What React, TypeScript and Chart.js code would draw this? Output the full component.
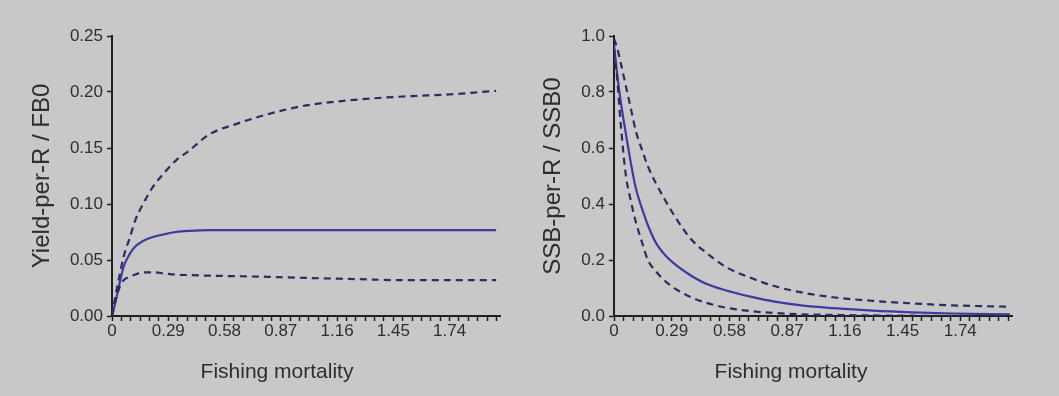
import React, { useEffect, useRef } from 'react';
import { Chart, registerables } from 'chart.js';

Chart.register(...registerables);

const FONT = '"Liberation Sans", Arial, sans-serif';

// x axis: minor tick every 0.29/6, labels every 6th tick
const X_TICK_STEP = 0.29 / 6;
const X_TICK_COUNT = 42;
const X_TICK_LABELS = ['0', '0.29', '0.58', '0.87', '1.16', '1.45', '1.74'];
const LEFT_Y_TICKS = ['0.00', '0.05', '0.10', '0.15', '0.20', '0.25'];
const RIGHT_Y_TICKS = ['0.0', '0.2', '0.4', '0.6', '0.8', '1.0'];

// Left panel: Yield-per-R / FB0
const F_LEFT = [0, 0.02, 0.04, 0.06, 0.09, 0.12, 0.16, 0.21, 0.27, 0.33, 0.4, 0.5, 0.65, 0.8, 1.0, 1.25, 1.5, 1.75, 1.98];
const YIELD_MID = [0, 0.014, 0.03, 0.044, 0.055, 0.062, 0.067, 0.0705, 0.073, 0.075, 0.076, 0.0766, 0.0766, 0.0766, 0.0766, 0.0766, 0.0766, 0.0766, 0.0766];
const YIELD_UPPER = [0, 0.02, 0.037, 0.053, 0.069, 0.0855, 0.1, 0.115, 0.128, 0.139, 0.148, 0.162, 0.172, 0.18, 0.188, 0.193, 0.196, 0.198, 0.201];
const YIELD_LOWER = [0, 0.015, 0.026, 0.032, 0.035, 0.037, 0.039, 0.039, 0.038, 0.037, 0.0365, 0.036, 0.0355, 0.035, 0.034, 0.033, 0.032, 0.032, 0.032];

// Right panel: SSB-per-R / SSB0
const F_RIGHT = [0, 0.015, 0.035, 0.06, 0.085, 0.11, 0.14, 0.17, 0.21, 0.26, 0.32, 0.39, 0.46, 0.56, 0.68, 0.8, 0.95, 1.1, 1.3, 1.5, 1.7, 1.99];
const SSB_MID = [0.97, 0.87, 0.76, 0.65, 0.545, 0.455, 0.385, 0.325, 0.262, 0.215, 0.177, 0.143, 0.116, 0.092, 0.07, 0.052, 0.037, 0.028, 0.019, 0.013, 0.009, 0.006];
const SSB_UPPER = [0.99, 0.96, 0.9, 0.82, 0.74, 0.66, 0.595, 0.535, 0.475, 0.41, 0.34, 0.272, 0.228, 0.176, 0.138, 0.108, 0.083, 0.067, 0.054, 0.045, 0.038, 0.033];
const SSB_LOWER = [0.95, 0.855, 0.676, 0.5, 0.41, 0.335, 0.265, 0.2, 0.16, 0.123, 0.092, 0.066, 0.048, 0.03, 0.018, 0.011, 0.006, 0.004, 0.002, 0.001, 0.0005, 0];

const SOLID_COLOR = '#3c3ca0';
const DASH_COLOR = '#2c2c62';
const AXIS_COLOR = '#1e1e1e';
const TEXT_COLOR = '#2e2e2e';

const xTitlePlugin = {
  id: 'xTitleAt',
  afterDraw(chart: any, _args: any, opts: any) {
    const { ctx } = chart;
    ctx.save();
    ctx.font = `${opts.size}px ${FONT}`;
    ctx.fillStyle = opts.color;
    ctx.textAlign = 'center';
    ctx.textBaseline = 'middle';
    ctx.fillText(opts.text, opts.x, opts.y);
    ctx.restore();
  },
};

type PanelSpec = {
  xs: number[];
  mid: number[];
  upper: number[];
  lower: number[];
  yMax: number;
  yStep: number;
  yLabels: string[];
  yTitle: string;
  yTitlePad: number;
  yAxisWidth: number;
  padRight: number;
  xTitleX: number;
};

function toPoints(xs: number[], ys: number[]) {
  return xs.map((x, i) => ({ x, y: ys[i] }));
}

function makeConfig(p: PanelSpec): any {
  const dashed = (ys: number[]) => ({
    data: toPoints(p.xs, ys),
    borderColor: DASH_COLOR,
    borderWidth: 2.2,
    borderDash: [7, 5],
    pointRadius: 0,
    fill: false,
    cubicInterpolationMode: 'monotone',
  });
  return {
    type: 'line',
    data: {
      datasets: [
        dashed(p.upper),
        dashed(p.lower),
        {
          data: toPoints(p.xs, p.mid),
          borderColor: SOLID_COLOR,
          borderWidth: 2.2,
          pointRadius: 0,
          fill: false,
          cubicInterpolationMode: 'monotone',
        },
      ],
    },
    options: {
      animation: false,
      responsive: false,
      maintainAspectRatio: false,
      events: [],
      layout: { padding: { top: 36, right: p.padRight, left: 0, bottom: 0 } },
      plugins: {
        legend: { display: false },
        tooltip: { enabled: false },
        xTitleAt: { text: 'Fishing mortality', x: p.xTitleX, y: 372, size: 21, color: TEXT_COLOR },
      },
      scales: {
        x: {
          type: 'linear',
          min: 0,
          max: 2.0,
          afterBuildTicks: (scale: any) => {
            const t = [];
            for (let i = 0; i < X_TICK_COUNT; i++) t.push({ value: i * X_TICK_STEP });
            scale.ticks = t;
          },
          afterFit: (scale: any) => {
            scale.height = 80;
          },
          grid: {
            display: true,
            drawOnChartArea: false,
            drawTicks: true,
            tickLength: 5,
            tickColor: AXIS_COLOR,
            tickWidth: 1.5,
          },
          border: { display: true, color: AXIS_COLOR, width: 2 },
          ticks: {
            autoSkip: false,
            maxRotation: 0,
            minRotation: 0,
            padding: 0,
            color: TEXT_COLOR,
            font: { family: FONT, size: 17 },
            callback: (_v: any, i: number) => (i % 6 === 0 ? X_TICK_LABELS[i / 6] ?? '' : ''),
          },
        },
        y: {
          type: 'linear',
          min: 0,
          max: p.yMax,
          afterFit: (scale: any) => {
            scale.width = p.yAxisWidth;
          },
          grid: {
            display: true,
            drawOnChartArea: false,
            drawTicks: true,
            tickLength: 5,
            tickColor: AXIS_COLOR,
            tickWidth: 1.5,
          },
          border: { display: true, color: AXIS_COLOR, width: 2 },
          ticks: {
            stepSize: p.yStep,
            padding: 4,
            color: TEXT_COLOR,
            font: { family: FONT, size: 17 },
            callback: (_v: any, i: number) => p.yLabels[i],
          },
          title: {
            display: true,
            text: p.yTitle,
            color: TEXT_COLOR,
            font: { family: FONT, size: 24 },
            padding: { top: p.yTitlePad, bottom: 0 },
          },
        },
      },
    },
    plugins: [xTitlePlugin],
  };
}

function Panel({ spec, left, width }: { spec: PanelSpec; left: number; width: number }) {
  const ref = useRef<HTMLCanvasElement | null>(null);
  useEffect(() => {
    if (!ref.current) return;
    const chart = new Chart(ref.current, makeConfig(spec));
    return () => chart.destroy();
  }, []);
  return (
    <canvas
      ref={ref}
      width={width}
      height={396}
      style={{ position: 'absolute', left, top: 0, width, height: 396 }}
    />
  );
}

const LEFT_SPEC: PanelSpec = {
  xs: F_LEFT,
  mid: YIELD_MID,
  upper: YIELD_UPPER,
  lower: YIELD_LOWER,
  yMax: 0.25,
  yStep: 0.05,
  yLabels: LEFT_Y_TICKS,
  yTitle: 'Yield-per-R / FB0',
  yTitlePad: 28,
  yAxisWidth: 112,
  padRight: 30,
  xTitleX: 277,
};

const RIGHT_SPEC: PanelSpec = {
  xs: F_RIGHT,
  mid: SSB_MID,
  upper: SSB_UPPER,
  lower: SSB_LOWER,
  yMax: 1.0,
  yStep: 0.2,
  yLabels: RIGHT_Y_TICKS,
  yTitle: 'SSB-per-R / SSB0',
  yTitlePad: 9,
  yAxisWidth: 84,
  padRight: 47,
  xTitleX: 261,
};

export default function App() {
  return (
    <div
      style={{
        position: 'fixed',
        left: 0,
        top: 0,
        width: 1059,
        height: 396,
        background: '#c8c8c8',
        overflow: 'hidden',
      }}
    >
      <Panel spec={LEFT_SPEC} left={0} width={530} />
      <Panel spec={RIGHT_SPEC} left={530} width={529} />
    </div>
  );
}
